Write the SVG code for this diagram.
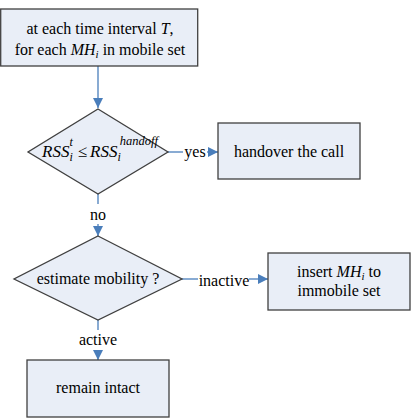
<svg xmlns="http://www.w3.org/2000/svg" width="416" height="420" viewBox="0 0 416 420">
<defs>
<marker id="ah" viewBox="0 0 10 10" refX="10" refY="5" markerWidth="10" markerHeight="10" markerUnits="userSpaceOnUse" orient="auto">
<path d="M0,0 L10,5 L0,10 Z" fill="#4A7EBB"/>
</marker>
<style>
.n{fill:#E9EEF7;stroke:#404040;stroke-width:1.3}
.c{stroke:#4A7EBB;stroke-width:1.3;fill:none}
</style>
</defs>
<rect width="416" height="420" fill="#fff"/>
<g id="connectors">
<line class="c" x1="98" y1="66" x2="98" y2="108" marker-end="url(#ah)"/>
<line class="c" x1="168" y1="152" x2="183" y2="152"/>
<line class="c" x1="207" y1="152" x2="218" y2="152" marker-end="url(#ah)"/>
<line class="c" x1="98" y1="194" x2="98" y2="204"/>
<line class="c" x1="98" y1="224" x2="98" y2="236" marker-end="url(#ah)"/>
<line class="c" x1="182" y1="279" x2="198" y2="279"/>
<line class="c" x1="249" y1="279" x2="268" y2="279" marker-end="url(#ah)"/>
<line class="c" x1="98" y1="320" x2="98" y2="330"/>
<line class="c" x1="98" y1="350" x2="98" y2="360" marker-end="url(#ah)"/>
<text font-family="Liberation Serif" font-size="16" text-anchor="middle" x="195" y="157">yes</text>
<text font-family="Liberation Serif" font-size="16" text-anchor="middle" x="98" y="220">no</text>
<text font-family="Liberation Serif" font-size="16" text-anchor="middle" x="224" y="286">inactive</text>
<text font-family="Liberation Serif" font-size="16" text-anchor="middle" x="98" y="345">active</text>
</g>
<g id="start">
<rect class="n" x="0.7" y="9" width="197" height="57"/>
<text font-family="Liberation Serif" font-size="16" text-anchor="middle" x="100" y="34">at each time interval <tspan font-style="italic">T</tspan>,</text>
<text font-family="Liberation Serif" font-size="16" text-anchor="middle" x="100" y="55">for each <tspan font-style="italic">MH</tspan><tspan font-style="italic" font-size="11" dy="3">i</tspan><tspan dy="-3"> in mobile set</tspan></text>
</g>
<g id="decision1">
<polygon class="n" points="98,109 168,152 98,194 28,152"/>
<text font-family="Liberation Serif" x="42" y="157" font-style="italic" font-size="17">RSS<tspan font-size="12" y="161">i</tspan><tspan font-size="12" dx="-3.3" y="146">t</tspan><tspan font-style="normal" font-size="17" dx="5" y="157">≤</tspan><tspan dx="3">RSS</tspan><tspan font-size="12" y="161">i</tspan><tspan font-size="12.5" dx="-1" y="145">handoff</tspan></text>
</g>
<g id="handover">
<rect class="n" x="218" y="123" width="142" height="56"/>
<text font-family="Liberation Serif" font-size="16" text-anchor="middle" x="289" y="157">handover the call</text>
</g>
<g id="decision2">
<polygon class="n" points="98,236 182,279 98,320 14,279"/>
<text font-family="Liberation Serif" font-size="16" text-anchor="middle" x="98" y="284">estimate mobility ?</text>
</g>
<g id="insert">
<rect class="n" x="268" y="253" width="142" height="57"/>
<text font-family="Liberation Serif" font-size="16" text-anchor="middle" x="339" y="277">insert <tspan font-style="italic">MH</tspan><tspan font-style="italic" font-size="11" dy="3">i</tspan><tspan dy="-3"> to</tspan></text>
<text font-family="Liberation Serif" font-size="16" text-anchor="middle" x="339" y="296">immobile set</text>
</g>
<g id="remain">
<rect class="n" x="27" y="360" width="142" height="57"/>
<text font-family="Liberation Serif" font-size="16" text-anchor="middle" x="98" y="393">remain intact</text>
</g>
</svg>
